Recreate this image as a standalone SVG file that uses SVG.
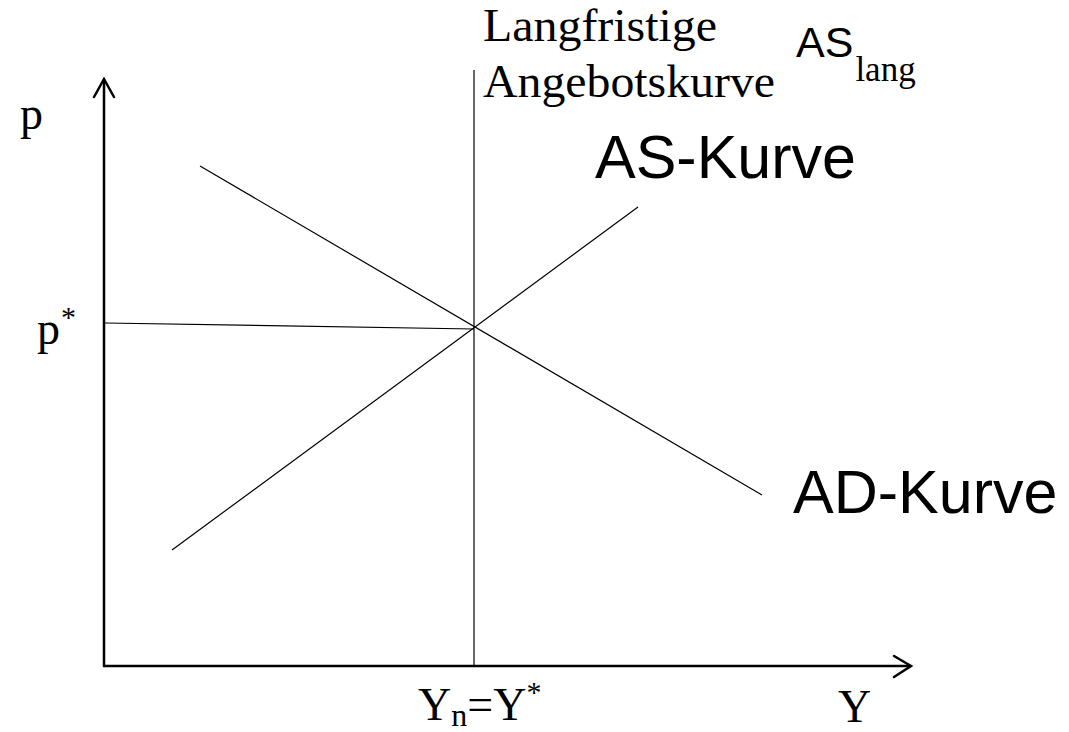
<svg xmlns="http://www.w3.org/2000/svg" width="1069" height="732" viewBox="0 0 1069 732">
<style>
.axis{stroke:#000;stroke-width:2.5;fill:none;stroke-linecap:round;stroke-linejoin:miter}
.thin{stroke:#000;stroke-width:1.2;fill:none}
.serif{font-family:"Liberation Serif","Times New Roman",serif;fill:#000}
.sans{font-family:"Liberation Sans",Arial,sans-serif;fill:#000}
</style>
<rect width="1069" height="732" fill="#fff"/>
<g id="axes">
<line class="axis" x1="104" y1="666" x2="104" y2="80"/>
<polyline class="axis" points="94,97 104,79 114,97"/>
<line class="axis" x1="104" y1="666" x2="910" y2="666"/>
<polyline class="axis" points="894,656 911,666 894,677"/>
</g>
<g id="connectors">
<line class="thin" x1="474" y1="70" x2="474" y2="666"/>
<line class="thin" x1="105" y1="323" x2="474" y2="329"/>
<line class="thin" x1="200" y1="166" x2="762" y2="495"/>
<line class="thin" x1="172" y1="550" x2="638" y2="207"/>
</g>
<g id="label-p"><text class="serif" x="20" y="129" font-size="46">p</text></g>
<g id="label-pstar"><text class="serif" x="37" y="344" font-size="46">p<tspan font-size="30" dx="1" dy="-17">*</tspan></text></g>
<g id="label-Yn"><text class="serif" x="418" y="720" font-size="46">Y<tspan font-size="32" dy="6">n</tspan><tspan dy="-6">=Y</tspan><tspan font-size="30" dy="-18">*</tspan></text></g>
<g id="label-Y"><text class="serif" x="838" y="722" font-size="46">Y</text></g>
<g id="label-langfristig">
<text class="serif" x="483" y="41" font-size="46" textLength="234" lengthAdjust="spacingAndGlyphs">Langfristige</text>
<text class="serif" x="483" y="97" font-size="46" textLength="292" lengthAdjust="spacingAndGlyphs">Angebotskurve</text>
</g>
<g id="label-ASlang"><text class="sans" x="796" y="57" font-size="43">AS<tspan class="serif" font-size="35" dx="2" dy="24">lang</tspan></text></g>
<g id="label-AS"><text class="sans" x="595" y="178" font-size="61">AS-Kurve</text></g>
<g id="label-AD"><text class="sans" x="793" y="513" font-size="61">AD-Kurve</text></g>
</svg>
